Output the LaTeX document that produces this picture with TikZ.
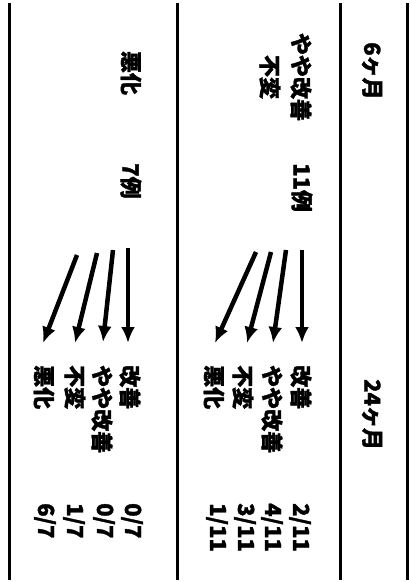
\documentclass[tikz,border=0pt]{standalone}
\usepackage{fontspec}
\newfontfamily\jp{Noto Sans CJK JP}[BoldFeatures={FakeBold=1.5}]
\usetikzlibrary{arrows.meta}
\tikzset{
  rt/.style={rotate=-90, inner sep=0pt, font=\jp\bfseries\fontsize{22pt}{26pt}\selectfont},
  rule/.style={line width=3pt},
  arr/.style={line width=4.5pt, -{Latex[length=16pt,width=14pt]}}
}
\begin{document}
\begin{tikzpicture}[x=1pt,y=-1pt]
\useasboundingbox (0,0) rectangle (410,582);
% table rules
\coordinate (r1t) at (9,3);   \coordinate (r1b) at (9,580);
\coordinate (r2t) at (177,3); \coordinate (r2b) at (177,580);
\coordinate (r3t) at (340,3); \coordinate (r3b) at (340,580);
\coordinate (r4t) at (407,3); \coordinate (r4b) at (407,580);
\draw[rule] (r1t) -- (r1b);
\draw[rule] (r2t) -- (r2b);
\draw[rule] (r3t) -- (r3b);
\draw[rule] (r4t) -- (r4b);
% header
\node[rt, anchor=west] (h1) at (372,42) {6ヶ月};
\node[rt, anchor=west] (h2) at (372,379) {24ヶ月};
% middle row
\node[rt] (ma) at (301,77) {やや改善};
\node[rt] (mb) at (270,77) {不変};
\node[rt, anchor=west] (mn) at (302,163) {11例};
\node[rt, anchor=west] (m1) at (301,365) {改善};
\node[rt, anchor=west] (m2) at (272,365) {やや改善};
\node[rt, anchor=west] (m3) at (243,365) {不変};
\node[rt, anchor=west] (m4) at (214,365) {悪化};
\node[rt, anchor=west] (mf1) at (300,503) {2/11};
\node[rt, anchor=west] (mf2) at (272,503) {4/11};
\node[rt, anchor=west] (mf3) at (245,503) {3/11};
\node[rt, anchor=west] (mf4) at (217,503) {1/11};
\coordinate (ms1) at (302,250); \coordinate (me1) at (302,343);
\coordinate (ms2) at (286,250); \coordinate (me2) at (273,343);
\coordinate (ms3) at (271,252); \coordinate (me3) at (247,343);
\coordinate (ms4) at (256,252); \coordinate (me4) at (215,343);
\draw[arr] (ms1) -- (me1);
\draw[arr] (ms2) -- (me2);
\draw[arr] (ms3) -- (me3);
\draw[arr] (ms4) -- (me4);
% left row
\node[rt] (la) at (131,73) {悪化};
\node[rt, anchor=west] (ln) at (131,163) {7例};
\node[rt, anchor=west] (l1) at (130,365) {改善};
\node[rt, anchor=west] (l2) at (102,365) {やや改善};
\node[rt, anchor=west] (l3) at (75,365) {不変};
\node[rt, anchor=west] (l4) at (44,365) {悪化};
\node[rt, anchor=west] (lf1) at (132,503) {0/7};
\node[rt, anchor=west] (lf2) at (104,503) {0/7};
\node[rt, anchor=west] (lf3) at (74,503) {1/7};
\node[rt, anchor=west] (lf4) at (45,503) {6/7};
\coordinate (ls1) at (128,248); \coordinate (le1) at (128,343);
\coordinate (ls2) at (113,250); \coordinate (le2) at (103,342);
\coordinate (ls3) at (97,253);  \coordinate (le3) at (75,343);
\coordinate (ls4) at (77,255);  \coordinate (le4) at (43,343);
\draw[arr] (ls1) -- (le1);
\draw[arr] (ls2) -- (le2);
\draw[arr] (ls3) -- (le3);
\draw[arr] (ls4) -- (le4);
\end{tikzpicture}
\end{document}
